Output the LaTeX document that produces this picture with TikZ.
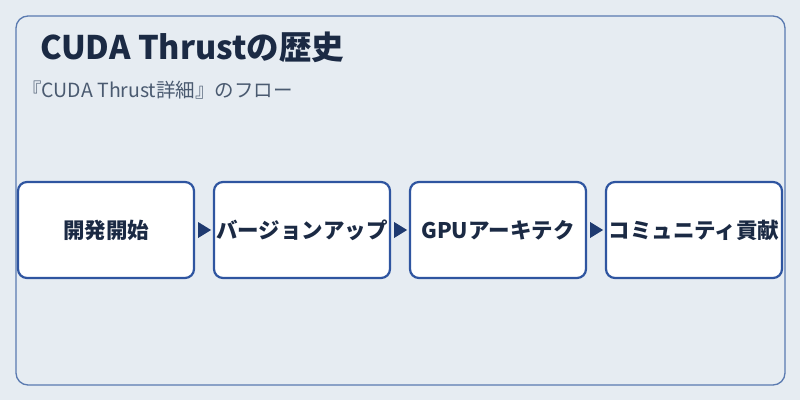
\documentclass[tikz,border=0pt]{standalone}
\usepackage{fontspec}
\setmainfont{Noto Sans CJK JP}
\usetikzlibrary{arrows.meta}
\definecolor{bg}{HTML}{E6ECF2}
\definecolor{frame}{HTML}{5A7AB0}
\definecolor{boxb}{HTML}{2F55A0}
\definecolor{navy}{HTML}{1B2A44}
\definecolor{arr}{HTML}{1F3A70}
\definecolor{sub}{HTML}{4A5A70}
\tikzset{stepbox/.style={draw=boxb,line width=2.2pt,fill=white,rounded corners=9pt,minimum width=176pt,minimum height=96pt,inner sep=0pt,font=\fontsize{21.5}{21.5}\selectfont\bfseries,text=navy}}
\begin{document}
\begin{tikzpicture}[x=1pt,y=-1pt]
\fill[bg] (0,0) rectangle (800,400);
\useasboundingbox (0,0) rectangle (800,400);
\draw[frame,line width=1.3pt,rounded corners=12pt] (16,16) rectangle (785,385);
\node[anchor=west,inner sep=0pt,text=navy,font=\fontsize{32.5}{32.5}\selectfont\bfseries] (title) at (40,47) {CUDA Thrustの歴史};
\node[anchor=west,inner sep=0pt,text=sub,font=\fontsize{19.5}{19.5}\selectfont] (subt) at (22,90) {『CUDA Thrust詳細』のフロー};
\node[stepbox] (a) at (106,230) {開発開始};
\node[stepbox] (b) at (302,230) {バージョンアップ};
\node[stepbox] (c) at (498,230) {GPUアーキテク};
\node[stepbox] (d) at (694,230) {コミュニティ貢献};
\foreach \u/\v in {a/b,b/c,c/d}{
\fill[arr] ([xshift=3pt]\u.east) ++(0,-8) -- ++(13,8) -- ++(-13,8) -- cycle;
}
\end{tikzpicture}
\end{document}
